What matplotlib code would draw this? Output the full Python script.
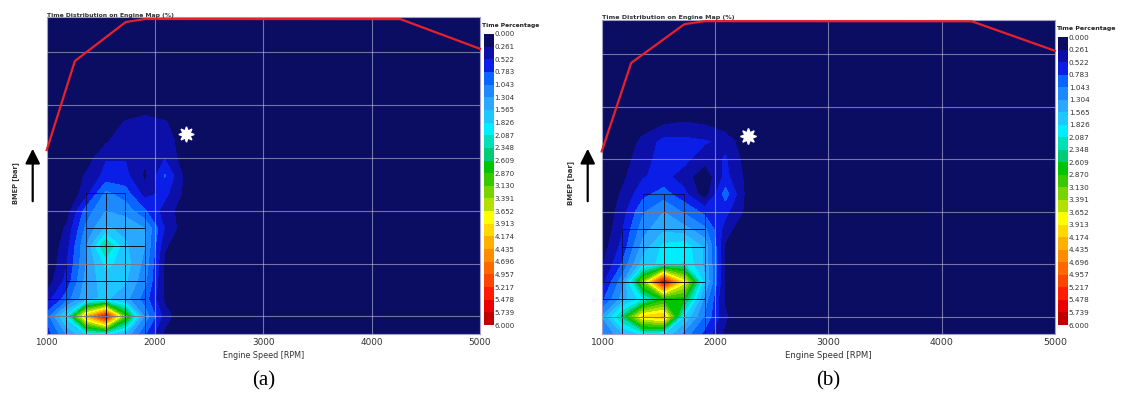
import numpy as np
import matplotlib
matplotlib.use("Agg")
import matplotlib.pyplot as plt
from matplotlib.colors import ListedColormap, BoundaryNorm
from matplotlib.collections import LineCollection
from matplotlib.patches import FancyArrowPatch

# ---------------------------------------------------------------- data
# full-load BMEP curve (rpm, bar)
wot_rpm = [1000, 1260, 1730, 1910, 4265, 5000]
wot_bmep = [12.6, 19.35, 22.31, 22.54, 22.53, 20.28]

# operating point marker
marker_rpm = 2290
marker_bmep = 13.8

# time share (%) on the logged map, rows = BMEP nodes (bottom -> top),
# columns = speed nodes starting at 1000 rpm; remaining map cells are 0
time_share_a = [
    [0.6, 1.3, 1.8, 1.9, 1.5, 0.8, 0.2, 0.0, 0.0],
    [0.9, 1.9, 4.2, 5.6, 3.0, 1.2, 0.4, 0.0, 0.0],
    [0.4, 0.9, 1.5, 1.6, 1.4, 0.9, 0.2, 0.0, 0.0],
    [0.1, 0.6, 1.4, 1.7, 1.6, 1.1, 0.2, 0.0, 0.0],
    [0.0, 0.5, 1.3, 1.9, 1.7, 1.2, 0.2, 0.0, 0.0],
    [0.0, 0.4, 1.3, 2.4, 1.6, 1.3, 0.3, 0.0, 0.0],
    [0.0, 0.3, 1.1, 1.6, 1.5, 1.3, 0.5, 0.1, 0.0],
    [0.0, 0.1, 0.9, 1.3, 1.2, 0.8, 0.4, 0.1, 0.0],
    [0.0, 0.0, 0.4, 1.1, 0.9, 0.4, 0.6, 0.2, 0.0],
    [0.0, 0.0, 0.3, 0.6, 0.6, 0.2, 0.8, 0.2, 0.0],
    [0.0, 0.0, 0.1, 0.5, 0.5, 0.3, 0.5, 0.1, 0.0],
    [0.0, 0.0, 0.0, 0.2, 0.5, 0.5, 0.5, 0.0, 0.0],
    [0.0, 0.0, 0.0, 0.0, 0.3, 0.45, 0.3, 0.0, 0.0],
    [0.0, 0.0, 0.0, 0.0, 0.0, 0.0, 0.0, 0.0, 0.0],
]

time_share_b = [
    [1.0, 1.5, 1.9, 1.8, 1.2, 0.7, 0.2, 0.0, 0.0],
    [1.3, 2.4, 4.0, 4.2, 1.8, 1.0, 0.3, 0.0, 0.0],
    [0.7, 1.4, 2.0, 2.7, 2.7, 1.2, 0.2, 0.0, 0.0],
    [0.4, 1.2, 3.2, 5.6, 3.8, 1.6, 0.2, 0.0, 0.0],
    [0.2, 0.8, 1.7, 1.9, 2.1, 1.5, 0.2, 0.0, 0.0],
    [0.1, 0.6, 1.4, 1.9, 2.0, 1.5, 0.2, 0.0, 0.0],
    [0.0, 0.5, 1.2, 1.5, 1.4, 1.1, 0.4, 0.0, 0.0],
    [0.0, 0.4, 1.0, 1.3, 1.0, 0.7, 0.6, 0.2, 0.0],
    [0.0, 0.3, 0.7, 0.9, 0.6, 0.1, 0.9, 0.2, 0.0],
    [0.0, 0.2, 0.5, 0.6, 0.4, 0.05, 0.6, 0.2, 0.0],
    [0.0, 0.1, 0.45, 0.6, 0.6, 0.35, 0.55, 0.15, 0.0],
    [0.0, 0.0, 0.35, 0.6, 0.6, 0.55, 0.45, 0.05, 0.0],
    [0.0, 0.0, 0.1, 0.25, 0.3, 0.25, 0.1, 0.0, 0.0],
    [0.0, 0.0, 0.0, 0.0, 0.0, 0.0, 0.0, 0.0, 0.0],
]

speed_ticks = [1000, 2000, 3000, 4000, 5000]
bmep_grid = [0, 4, 8, 12, 16, 20]

# colour scale: 23 bands from 0 to 6 %
band_colors = [
    "#0b0d62", "#0c10a8", "#0a1ee8", "#0a64ff", "#1e88ff", "#2aa8ff",
    "#1cc8ff", "#00ecff", "#00e0b8", "#00cc78", "#00c400", "#38c800",
    "#78d400", "#b4e000", "#ffff00", "#ffd800", "#ffb000", "#ff8c00",
    "#ff6800", "#ff4400", "#ff1c00", "#ea0000", "#c00000",
]
levels = np.linspace(0.0, 6.0, len(band_colors) + 1)

# ---------------------------------------------------------------- grid
rpm_nodes = np.linspace(1000, 5000, 23)
bmep_nodes = np.linspace(-4 / 3, 68 / 3, 19)
y_lim = (bmep_nodes[0], bmep_nodes[-1])


def full_map(block):
    block = np.asarray(block, dtype=float)
    z = np.zeros((len(bmep_nodes), len(rpm_nodes)))
    z[: block.shape[0], : block.shape[1]] = block
    return z


cmap = ListedColormap(band_colors)
norm = BoundaryNorm(levels, cmap.N)

W, H = 1125, 394
fig = plt.figure(figsize=(W / 100, H / 100), dpi=100)


def fx(px):
    return px / W


def fy(py):
    return 1 - py / H


def mesh_lines(z, thr):
    segs = []
    for j in range(len(bmep_nodes) - 1):
        for i in range(len(rpm_nodes) - 1):
            if z[j:j + 2, i:i + 2].mean() >= thr:
                x0, x1 = rpm_nodes[i], rpm_nodes[i + 1]
                y0, y1 = bmep_nodes[j], bmep_nodes[j + 1]
                segs += [[(x0, y0), (x1, y0)], [(x0, y1), (x1, y1)],
                         [(x0, y0), (x0, y1)], [(x1, y0), (x1, y1)]]
    return segs


def panel(block, ax_px, cb_px, label, scale):
    left, top, right, bottom = ax_px
    ax = fig.add_axes([fx(left), fy(bottom), fx(right - left), (bottom - top) / H])
    z = full_map(block)
    ax.set_facecolor(band_colors[0])
    cs = ax.contourf(rpm_nodes, bmep_nodes, z, levels=levels, cmap=cmap, norm=norm)
    ax.add_collection(LineCollection(mesh_lines(z, 0.9), colors="#0a0a18",
                                     linewidths=0.6, alpha=0.8, zorder=2))
    for gx in speed_ticks[1:-1]:
        ax.axvline(gx, color="#c8c8e0", lw=0.8, alpha=0.55, zorder=3)
    for gy in bmep_grid:
        ax.axhline(gy, color="#c8c8e0", lw=0.8, alpha=0.55, zorder=3)
    ax.plot(wot_rpm, wot_bmep, color="#e8202a", lw=1.6, zorder=4, clip_on=False)
    ax.plot([marker_rpm], [marker_bmep], marker=(8, 1, 0), color="white",
            markersize=11 * scale, mec="white", zorder=5)
    ax.set_xlim(1000, 5000)
    ax.set_ylim(*y_lim)
    ax.set_xticks(speed_ticks)
    ax.set_xticklabels([str(t) for t in speed_ticks], fontsize=6.4 * scale, color="#333333")
    ax.set_yticks([])
    ax.tick_params(axis="x", length=0, pad=3)
    for s in ax.spines.values():
        s.set_color("#a0a0c8")
        s.set_linewidth(0.8)
    ax.set_xlabel("Engine Speed [RPM]", fontsize=5.8 * scale, color="#333333", labelpad=3)
    fig.text(fx(left), fy(top + 1), "Time Distribution on Engine Map (%)",
             fontsize=4.4 * scale, fontweight="bold", color="#333333",
             ha="left", va="bottom")

    # colour bar, 0 at the top
    cl, ct, cr, cbt = cb_px
    cax = fig.add_axes([fx(cl), fy(cbt), fx(cr - cl), (cbt - ct) / H])
    cb = fig.colorbar(cs, cax=cax, ticks=levels)
    cax.invert_yaxis()
    cb.ax.set_yticklabels([f"{v:.3f}" for v in levels], fontsize=5.0 * scale, color="#333333")
    cb.ax.tick_params(length=0, pad=0.5)
    cb.outline.set_linewidth(0)
    fig.text(fx(cl - 2), fy(ct - 6), "Time Percentage", fontsize=4.3 * scale,
             fontweight="bold", color="#222222", ha="left", va="bottom")

    # vertical axis label with arrow
    fig.text(fx(left - 31), fy(183), "BMEP [bar]", rotation=90, fontsize=4.8 * scale,
             fontweight="bold", color="#333333", ha="center", va="center")
    fig.add_artist(FancyArrowPatch((fx(left - 14), fy(204)), (fx(left - 14), fy(146)),
                                   transform=fig.transFigure, arrowstyle="-|>",
                                   mutation_scale=22, lw=1.6, color="black"))
    fig.text(fx((left + right) / 2), fy(381), label, fontsize=15,
             family="Liberation Serif", ha="center", va="center")


panel(time_share_a, (46.7, 17.3, 480, 334), (484, 34, 494, 325), "(a)", 1.0)
panel(time_share_b, (601.7, 19.5, 1055, 334), (1058, 37, 1068, 325), "(b)", 1.05)

fig.savefig("out.png", dpi=100)
